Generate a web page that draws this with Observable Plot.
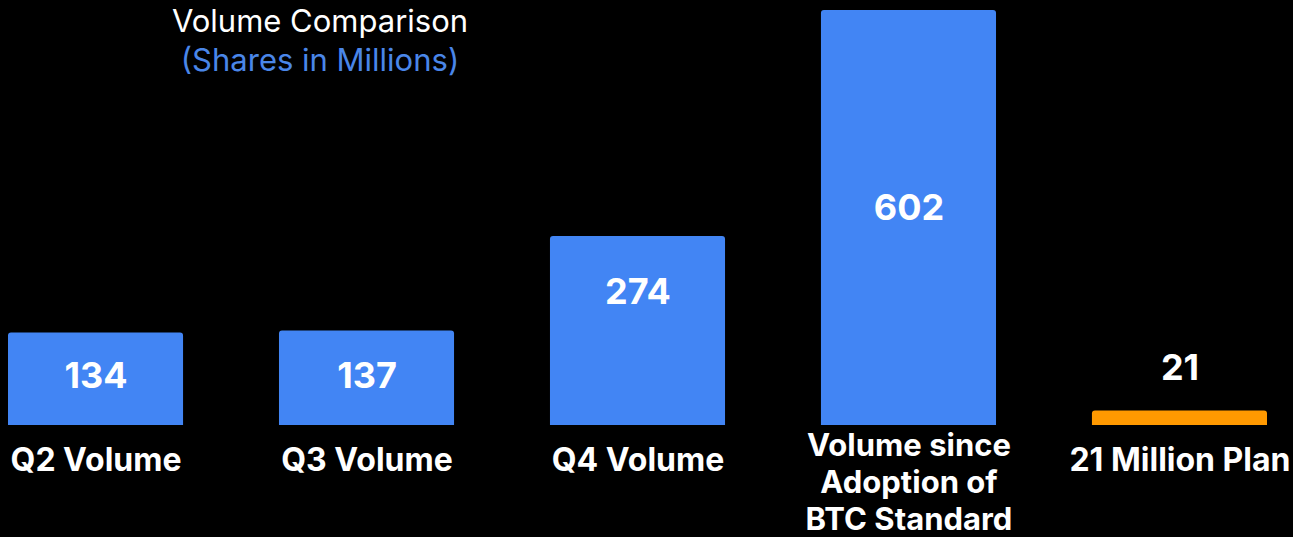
<!DOCTYPE html>
<html>
<head>
<meta charset="utf-8">
<script src="https://cdn.jsdelivr.net/npm/d3@7"></script>
<script src="https://cdn.jsdelivr.net/npm/@observablehq/plot@0.6"></script>
<style>
  html, body { margin: 0; padding: 0; background: #000; }
  #wrap { position: relative; width: 1293px; height: 537px; overflow: hidden; }
  #title { position: absolute; left: 0; top: 1px; width: 640px; text-align: center;
           font-family: Inter, "Noto Sans", sans-serif; font-size: 31px; line-height: 39px; color: #fff; font-weight: 400; }
  #title .sub { color: #4a86e8; }
</style>
</head>
<body>
<div id="wrap">
  <div id="chart"></div>
  <div id="title">Volume Comparison<br><span class="sub">(Shares in Millions)</span></div>
</div>
<script>
const categories = ["Q2 Volume", "Q3 Volume", "Q4 Volume", "Volume since\nAdoption of\nBTC Standard", "21 Million Plan"];
const values = [134, 137, 274, 602, 21];
const labelAt = [71, 71, 193, 315, 83];
const colors = ["#4285f4", "#4285f4", "#4285f4", "#4285f4", "#ff9900"];

const data = categories.map((c, i) => ({cat: c, value: values[i], labelAt: labelAt[i], color: colors[i]}));

const font = "Inter, 'Noto Sans', sans-serif";
const chart = Plot.plot({
  width: 1293,
  height: 537,
  marginLeft: 8,
  marginRight: 26,
  marginTop: 10,
  marginBottom: 112,
  style: {background: "#000", fontFamily: font},
  x: {domain: categories, paddingInner: 0.354, paddingOuter: 0, round: false, axis: null},
  y: {domain: [0, 602], axis: null},
  marks: [
    Plot.barY(data, {x: "cat", y: "value", fill: "color", rx1y1: 3, rx2y1: 3}),
    Plot.text(data, {x: "cat", y: "labelAt", text: d => String(d.value), fill: "#fff",
      fontSize: 36, fontWeight: 700}),
    Plot.text(data.filter(d => !d.cat.includes("\n")), {x: "cat", y: 0, text: "cat", fill: "#fff",
      fontSize: 32, fontWeight: 700, dy: 35}),
    Plot.text(data.filter(d => d.cat.includes("\n")), {x: "cat", y: 0, text: "cat", fill: "#fff",
      fontSize: 31, fontWeight: 700, lineAnchor: "top", dy: 4, lineHeight: 1.2})
  ]
});
document.getElementById("chart").appendChild(chart);
</script>
</body>
</html>
